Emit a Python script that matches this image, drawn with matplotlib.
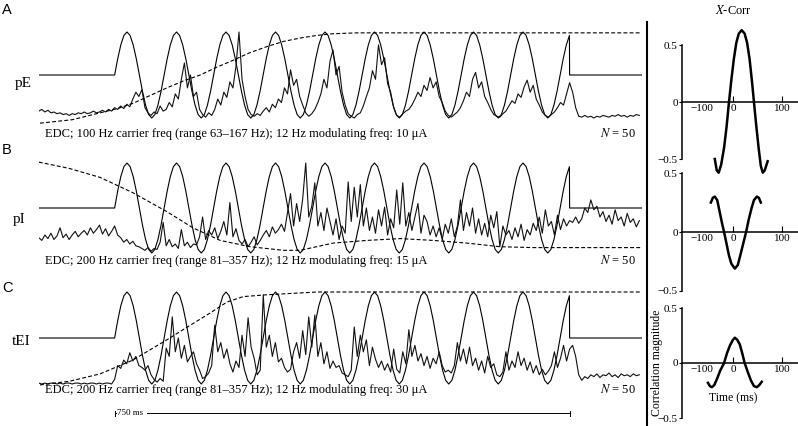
import numpy as np
import matplotlib.pyplot as plt
from matplotlib.lines import Line2D
from matplotlib.transforms import blended_transform_factory

plt.rcParams['font.family'] = ['Liberation Serif', 'DejaVu Serif']
plt.rcParams['mathtext.fontset'] = 'stix'

# recording time base (ms); stimulus train from 0 to 750 ms
t_start = -125
t_step = 5
t_end = 870
stim_dur = 750
cycle_ms = 81.6
# one 12 Hz modulation cycle of the stimulus (normalised, baseline 0.5)
stim_cycle = [0.5, 0.69, 0.85, 0.96, 1.0, 0.96, 0.85, 0.69,
              0.5, 0.31, 0.15, 0.04, 0.0, 0.04, 0.15, 0.31]

# PSTH traces, one value every 5 ms starting at -125 ms (normalised)
pE_rate = [0.08, 0.10, 0.07, 0.09, 0.06, 0.07, 0.05, 0.06, 0.04, 0.05,
           0.03, 0.05, 0.04, 0.06, 0.05, 0.07, 0.05, 0.06, 0.08, 0.06,
           0.07, 0.09, 0.07, 0.10, 0.08,
           0.12, 0.10, 0.14, 0.11, 0.16, 0.13, 0.22, 0.30, 0.25, 0.33, 0.12, 0.06, 0.03, 0.07, 0.05, 0.14, 0.08,
           0.10, 0.18, 0.13, 0.28, 0.22, 0.45, 0.64, 0.35, 0.50, 0.25, 0.30, 0.10, 0.04, 0.01, 0.06, 0.03,
           0.10, 0.22, 0.15, 0.30, 0.24, 0.42, 0.35, 0.60, 1.00, 0.45, 0.25, 0.10, 0.04, 0.02, 0.05, 0.03,
           0.08, 0.12, 0.07, 0.16, 0.12, 0.22, 0.18, 0.35, 0.28, 0.56, 0.38, 0.45, 0.25, 0.15, 0.06, 0.02,
           0.05, 0.10, 0.18, 0.28, 0.45, 0.35, 0.66, 0.79, 0.50, 0.60, 0.30, 0.15, 0.05, 0.02, 0.00, 0.04,
           0.06, 0.14, 0.25, 0.35, 0.55, 0.45, 0.85, 0.62, 0.70, 0.40, 0.30, 0.12, 0.03, 0.01, 0.05, 0.08,
           0.10, 0.15, 0.22, 0.30, 0.25, 0.38, 0.32, 0.47, 0.35, 0.42, 0.25, 0.18, 0.08, 0.03, 0.01, 0.04,
           0.07, 0.12, 0.20, 0.30, 0.25, 0.45, 0.53, 0.35, 0.42, 0.25, 0.18, 0.10, 0.04, 0.02, 0.01, 0.05,
           0.08, 0.14, 0.20, 0.17, 0.28, 0.24, 0.36, 0.44, 0.30, 0.38, 0.22, 0.15, 0.07, 0.03, 0.01, 0.04,
           0.07, 0.12, 0.18, 0.15, 0.28, 0.41, 0.30, 0.12, 0.02,
           0.01, 0.03, 0.01, 0.02, 0.00, 0.02, 0.01, 0.03, 0.02, 0.01,
           0.03, 0.02, 0.04, 0.02, 0.03, 0.01, 0.03, 0.02, 0.04, 0.03]

pI_rate = [0.17, 0.14, 0.20, 0.16, 0.22, 0.15, 0.19, 0.28, 0.17, 0.21, 0.15, 0.20, 0.24, 0.18, 0.22,
           0.25, 0.20, 0.28, 0.22, 0.26, 0.31, 0.21, 0.27, 0.19, 0.24,
           0.30, 0.20, 0.17, 0.12, 0.15, 0.10, 0.13, 0.08, 0.07,
           0.05, 0.03, 0.06, 0.02, 0.05, 0.04,
           0.12, 0.34, 0.08, 0.15,
           0.07, 0.10, 0.05, 0.26, 0.08, 0.12, 0.06, 0.10, 0.09,
           0.18, 0.40, 0.15, 0.25,
           0.20, 0.28, 0.16, 0.24, 0.35, 0.20, 0.56, 0.18, 0.27, 0.14,
           0.10, 0.15, 0.07, 0.12, 0.18, 0.09, 0.14,
           0.20, 0.25, 0.18, 0.29, 0.22, 0.26, 0.32, 0.24,
           0.45, 0.66, 0.30, 0.55, 0.35,
           0.60, 1.00, 0.40, 0.52, 0.78, 0.30, 0.45, 0.25, 0.50, 0.35,
           0.20, 0.38, 0.15, 0.30, 0.22,
           0.79, 0.35, 0.73, 0.40, 0.76, 0.30, 0.50, 0.25,
           0.40, 0.22, 0.48, 0.30, 0.51, 0.20, 0.38, 0.28, 0.70, 0.32,
           0.78, 0.30, 0.45, 0.25, 0.40,
           0.55, 0.22, 0.42, 0.35, 0.20, 0.30, 0.18, 0.28,
           0.15, 0.32, 0.22, 0.38, 0.18, 0.30,
           0.59, 0.25, 0.45, 0.30, 0.50, 0.22, 0.38,
           0.20, 0.33, 0.18, 0.42, 0.28, 0.46, 0.07,
           0.30, 0.20, 0.25, 0.15, 0.28, 0.18, 0.32, 0.14, 0.26, 0.20, 0.33,
           0.25, 0.40, 0.22, 0.48, 0.30, 0.35, 0.20, 0.42, 0.26, 0.38, 0.30,
           0.36, 0.34, 0.40, 0.33, 0.38, 0.50,
           0.45, 0.59, 0.48, 0.52, 0.40, 0.46, 0.35,
           0.42, 0.32, 0.48, 0.36, 0.40, 0.30, 0.44, 0.34, 0.38, 0.29, 0.36]

tEI_rate = [0.01, 0.00, 0.01, 0.00, 0.01, 0.01, 0.00, 0.01, 0.00, 0.01,
            0.01, 0.00, 0.01, 0.01, 0.00, 0.01, 0.00, 0.01, 0.01, 0.00,
            0.01, 0.00, 0.01, 0.01, 0.00,
            0.05, 0.20, 0.17, 0.26, 0.22, 0.34, 0.25, 0.30, 0.20,
            0.18, 0.15, 0.20,
            0.10, 0.05, 0.02, 0.06, 0.03,
            0.39, 0.30, 0.73, 0.35, 0.50,
            0.28, 0.42, 0.24, 0.30, 0.35, 0.22,
            0.15, 0.06, 0.08, 0.12, 0.20,
            0.64, 0.35, 0.45, 0.28, 0.38,
            0.22, 0.13, 0.25, 0.18,
            0.53, 0.30, 0.72, 0.40, 0.28,
            0.10, 0.15,
            0.97,
            0.40, 0.53, 0.30, 0.45, 0.24,
            0.28, 0.18, 0.13, 0.16, 0.35,
            0.45, 0.28, 0.58, 0.32,
            0.73, 0.40, 0.75,
            0.30, 0.45, 0.22, 0.35, 0.17,
            0.25, 0.18, 0.20,
            0.12, 0.10, 0.08,
            0.15, 0.62, 0.30, 0.53,
            0.35, 0.48, 0.20, 0.40,
            0.27, 0.18, 0.25, 0.15, 0.22,
            0.13, 0.38, 0.16, 0.12,
            0.35, 0.22, 0.59, 0.30, 0.42, 0.25,
            0.33, 0.20, 0.30, 0.17, 0.28, 0.22, 0.35, 0.20,
            0.13, 0.15, 0.12, 0.20,
            0.45, 0.25, 0.38, 0.22, 0.40, 0.20,
            0.28, 0.15, 0.25, 0.12, 0.30, 0.18, 0.22, 0.10, 0.08,
            0.13, 0.35, 0.15,
            0.25, 0.18, 0.35, 0.20, 0.28, 0.15, 0.24,
            0.12, 0.20, 0.10, 0.16, 0.10, 0.14,
            0.20, 0.35, 0.18, 0.28,
            0.42, 0.25, 0.38, 0.42, 0.30,
            0.10,
            0.04, 0.08, 0.06, 0.10, 0.08, 0.11, 0.07, 0.10, 0.09, 0.12,
            0.08, 0.10, 0.07, 0.11, 0.09, 0.10, 0.08, 0.11, 0.09, 0.10]

# dashed fitted curves (t in ms, normalised value)
pE_fit_t = [-123, -70, -24, 5, 30, 58, 86, 113, 141, 168, 195, 223, 251, 278, 306, 333, 360, 400, 432, 869]
pE_fit_v = [-0.06, -0.02, 0.06, 0.11, 0.17, 0.26, 0.35, 0.43, 0.50, 0.59, 0.67, 0.76, 0.83, 0.89, 0.93,
            0.96, 0.98, 0.99, 0.99, 0.99]
pI_fit_t = [-125, -75, -24, 30, 86, 129, 174, 223, 278, 306, 360, 416, 471, 525, 581, 635, 690, 869]
pI_fit_v = [1.01, 0.94, 0.84, 0.67, 0.46, 0.28, 0.14, 0.07, 0.03, 0.03, 0.11, 0.14, 0.16, 0.14, 0.11,
            0.07, 0.06, 0.06]
tEI_fit_t = [-123, -74, -24, 30, 86, 125, 157, 185, 212, 251, 334, 869]
tEI_fit_v = [-0.01, 0.03, 0.11, 0.26, 0.48, 0.64, 0.77, 0.89, 0.95, 0.97, 1.0, 1.0]

# cross-correlations (lag in ms, correlation magnitude)
xcA_t = [-37, -33, -29, -24, -18, -13, -8, -3, 2, 7, 12, 18, 24, 29, 34, 39, 43, 48, 53, 57, 61, 65, 71]
xcA_r = [-0.50, -0.60, -0.62, -0.55, -0.40, -0.22, 0.0, 0.20, 0.38, 0.52, 0.60, 0.63, 0.60, 0.52, 0.38,
         0.18, 0.0, -0.22, -0.42, -0.56, -0.62, -0.60, -0.52]
xcB_t = [-45, -41, -37, -32, -27, -22, -18, -13, -8, -3, 4, 10, 15, 21, 27, 32, 38, 43, 49, 53, 57]
xcB_r = [0.25, 0.29, 0.30, 0.27, 0.17, 0.07, 0.0, -0.10, -0.20, -0.27, -0.31, -0.28, -0.20, -0.10, 0.0,
         0.10, 0.20, 0.27, 0.30, 0.29, 0.25]
xcC_t = [-51, -47, -43, -38, -33, -26, -18, -12, -6, 0, 4, 9, 14, 19, 24, 31, 37, 43, 49, 54, 59]
xcC_r = [-0.18, -0.21, -0.22, -0.20, -0.15, -0.07, 0.0, 0.09, 0.16, 0.21, 0.23, 0.21, 0.17, 0.09, 0.0,
         -0.09, -0.16, -0.21, -0.22, -0.20, -0.17]

labels = ['pE', 'pI', 'tEI']
captions = ['EDC; 100 Hz carrier freq (range 63\u2013167 Hz); 12 Hz modulating freq: 10 \u03bcA',
            'EDC; 200 Hz carrier freq (range 81\u2013357 Hz); 12 Hz modulating freq: 15 \u03bcA',
            'EDC; 200 Hz carrier freq (range 81\u2013357 Hz); 12 Hz modulating freq: 30 \u03bcA']

W, H = 798, 426
fig = plt.figure(figsize=(W / 100, H / 100), dpi=100)


def px_axes(x0, x1, y0, y1):
    return fig.add_axes([x0 / W, 1 - y1 / H, (x1 - x0) / W, (y1 - y0) / H])


# stimulus waveform
dt = cycle_ms / len(stim_cycle)
n_stim = int(stim_dur / dt) + 1
stim_t = np.concatenate([[t_start], np.arange(n_stim) * dt, [stim_dur, t_end]])
stim_v = np.concatenate([[0.5], np.resize(stim_cycle, n_stim), [0.5, 0.5]])

left_boxes = [(27.7, 126.6, (-0.1, 1.05)), (158.5, 257.5, (-0.05, 1.05)), (287.4, 388.6, (-0.05, 1.05))]
rates = [pE_rate, pI_rate, tEI_rate]
fits = [(pE_fit_t, pE_fit_v), (pI_fit_t, pI_fit_v), (tEI_fit_t, tEI_fit_v)]
left_axes = []
for (y0, y1, yl), rate, (ft, fv) in zip(left_boxes, rates, fits):
    ax = px_axes(38.8, 642.4, y0, y1)
    t = t_start + t_step * np.arange(len(rate))
    ax.plot(stim_t, stim_v, color='black', lw=0.8)
    ax.plot(t, rate, color='#111111', lw=0.8)
    ax.plot(ft, fv, color='black', lw=0.8, dashes=(3.5, 2))
    ax.set_xlim(t_start, t_end)
    ax.set_ylim(*yl)
    ax.axis('off')
    left_axes.append(ax)

# panel letters, labels and captions
for letter, y in zip('ABC', [10, 150, 288]):
    fig.text(2 / W, 1 - y / H, letter, family='Liberation Sans', fontsize=10.5, va='center')
for lab, (x, y) in zip(labels, [(15, 87), (13, 223), (12, 345)]):
    fig.text(x / W, 1 - y / H, lab, fontsize=11, va='baseline')
for cap, y in zip(captions, [137, 264, 393]):
    fig.text(45 / W, 1 - y / H, cap, fontsize=9, va='baseline')
    fig.text(600 / W, 1 - y / H, '$N$ = 50', fontsize=9, va='baseline')

# 750 ms scale bar under panel C
axC = left_axes[2]
tr = blended_transform_factory(axC.transData, axC.transAxes)
ybar = (388.6 - 413) / (388.6 - 287.4)
tick = 2.5 / (388.6 - 287.4)
for xs, ys in [([0, 0], [ybar - tick, ybar + tick]), ([0, 3], [ybar, ybar]),
               ([54, stim_dur], [ybar, ybar]), ([stim_dur, stim_dur], [ybar - tick, ybar + tick])]:
    axC.plot(xs, ys, color='black', lw=0.7, transform=tr, clip_on=False)
axC.text(4, ybar, '750 ms', fontsize=6.5, va='center', ha='left', transform=tr)

# divider line
fig.add_artist(Line2D([647 / W, 647 / W], [1 - 22 / H, 0], color='black', lw=1.5))

# cross-correlation panels
right_boxes = [(24.5, 164.7, (-0.55, 0.68)), (167.1, 296.9, (-0.55, 0.55)), (302.5, 423.5, (-0.55, 0.55))]
xcs = [(xcA_t, xcA_r), (xcB_t, xcB_r), (xcC_t, xcC_r)]
for (y0, y1, yl), (xt, xr) in zip(right_boxes, xcs):
    ax = px_axes(682, 798, y0, y1)
    ax.plot(xt, xr, color='black', lw=1.8, clip_on=False, zorder=5)
    ax.set_xlim(-104, 133)
    ax.set_ylim(*yl)
    ax.patch.set_visible(False)
    ax.spines['top'].set_visible(False)
    ax.spines['right'].set_visible(False)
    ax.spines['bottom'].set_position(('data', 0))
    ax.spines['left'].set_bounds(-0.5, 0.5)
    ax.spines['left'].set_linewidth(1.1)
    ax.spines['bottom'].set_linewidth(1.1)
    ax.set_xticks([0, 100])
    ax.set_xticklabels(['0', '100'])
    ax.tick_params(axis='x', direction='in', length=4, width=0.8, pad=1.5, labelsize=8)
    ax.set_yticks([-0.5, 0, 0.5])
    ax.set_yticklabels(['\u22120.5', '0', '0.5'])
    ax.tick_params(axis='y', direction='out', length=2, width=0.8, pad=1, labelsize=8)
    ax.annotate('\u2212100', xy=(-63, 0), xytext=(0, -1.5), textcoords='offset points',
                ha='center', va='top', fontsize=8)

fig.text(733 / W, 1 - 10 / H, '$X$-Corr', fontsize=9, ha='center', va='center')
fig.text(657 / W, 1 - 363 / H, 'Correlation magnitude', fontsize=8.5, rotation=90,
         ha='center', va='center')
fig.text(733 / W, 1 - 398 / H, 'Time (ms)', fontsize=8.5, ha='center', va='center')

fig.savefig('out.png', dpi=100)
